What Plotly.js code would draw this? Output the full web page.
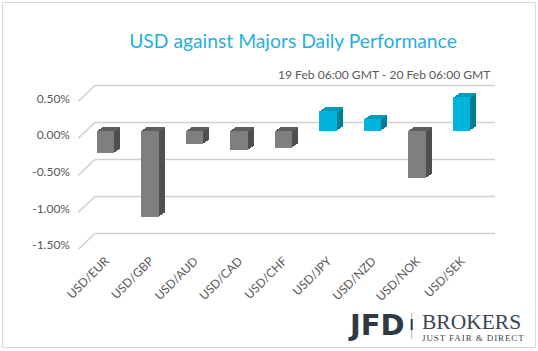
<!DOCTYPE html>
<html><head><meta charset="utf-8">
<script src="https://cdn.plot.ly/plotly-3.0.1.min.js"></script>
<style>html,body{margin:0;padding:0;background:#fff}#chart{width:538px;height:351px}</style>
</head><body><div id="chart"></div>
<script>
// ---- data ----
const categories = ["USD/EUR","USD/GBP","USD/AUD","USD/CAD","USD/CHF","USD/JPY","USD/NZD","USD/NOK","USD/SEK"];
const changes = [-0.30, -1.16, -0.18, -0.26, -0.23, 0.26, 0.16, -0.64, 0.45];
const yTickVals = [0.5, 0, -0.5, -1.0, -1.5];
const yTickText = ["0.50%","0.00%","-0.50%","-1.00%","-1.50%"];
const titleText = "USD against Majors Daily Performance";
const subtitleText = "19 Feb 06:00 GMT - 20 Feb 06:00 GMT";

// ---- geometry helpers ----
const W = 538, H = 351;
const xd = (a, b) => [a / W, b / W];
const yd = (top, bottom) => [(H - bottom) / H, (H - top) / H];
const FONT = "Lato, 'Open Sans', sans-serif";
const yRange = [-1.5, 0.5];
const xRange = [-0.5, categories.length - 0.5];
const xIdx = categories.map((c, i) => i);

const frontColor = changes.map(v => v >= 0 ? "#00b4dc" : "#7f7f7f");
const sideColor  = changes.map(v => v >= 0 ? "#007d93" : "#4f4f4f");
const topColor   = changes.map(v => v >= 0 ? "#0098bb" : "#5e5e5e");
const stripH = 0.022;
const stripBase = changes.map(v => Math.max(v, 0) - stripH);
const stripLen = changes.map(() => stripH);

const hidden = {showgrid:false, zeroline:false, showticklabels:false, showline:false, ticks:"", fixedrange:true};

const layout = {
  width: W, height: H,
  margin: {l:0, r:0, t:0, b:0},
  paper_bgcolor: "#ffffff",
  plot_bgcolor: "rgba(255,255,255,0)",
  showlegend: false,
  barmode: "overlay",
  bargap: 0,
  title: {text: titleText, x: 293/W, xanchor: "center", y: 1 - 41/H, yanchor: "middle",
          font: {family: FONT, size: 19.3, color: "#1fb1dc"}},
  annotations: [],
  shapes: []
};

const traces = [];

// back wall (xy): gridlines + perspective edges, drawn as line traces behind the bars
const wall = {l: 95, r: 495, t: 85.5, b: 233.5, edgeDx: 17, edgeDy: 16};
const pxPerY = (wall.b - wall.t) / (yRange[1] - yRange[0]);
const pxPerX = wall.r - wall.l;
layout.xaxis = Object.assign({}, hidden, {domain: xd(wall.l - wall.edgeDx, wall.r),
  range: [-wall.edgeDx / pxPerX, 1], type: "linear"});
layout.yaxis = Object.assign({}, hidden, {domain: yd(wall.t - 2, wall.b + wall.edgeDy),
  range: [yRange[0] - wall.edgeDy / pxPerY, yRange[1] + 2 / pxPerY]});
yTickVals.forEach(t => {
  traces.push({type: "scatter", mode: "lines", x: [-wall.edgeDx / pxPerX, 0, 1], y: [t - wall.edgeDy / pxPerY, t, t],
    xaxis: "x", yaxis: "y", line: {color: "#d0d0d0", width: 1.6}, hoverinfo: "skip"});
});

// depth layers (3D extrusion)
const layers = 6;
const frontBox = {l: 83.25, r: 483.75, t: 130.7 - 0.5*74, b: 130.7 + 1.5*74};
for (let n = 0; n < layers; n++) {
  const k = layers - n;           // deepest first
  const dx = k * 1.0, dy = k * 0.667;
  const id = n + 2;
  layout["xaxis" + id] = Object.assign({}, hidden, {domain: xd(frontBox.l + dx, frontBox.r + dx),
    range: xRange, anchor: "y" + id, type: "linear"});
  layout["yaxis" + id] = Object.assign({}, hidden, {domain: yd(frontBox.t - dy, frontBox.b - dy),
    range: yRange, anchor: "x" + id});
  traces.push({type: "bar", x: xIdx, y: changes, width: 0.4,
    xaxis: "x" + id, yaxis: "y" + id, marker: {color: sideColor, line: {width: 0}}, hoverinfo: "skip"});
  traces.push({type: "bar", x: xIdx, y: stripLen, base: stripBase, width: 0.4,
    xaxis: "x" + id, yaxis: "y" + id, marker: {color: topColor, line: {width: 0}}, hoverinfo: "skip"});
}

// front faces
const fid = layers + 2;
layout["xaxis" + fid] = Object.assign({}, hidden, {domain: xd(frontBox.l, frontBox.r), range: xRange,
  anchor: "y" + fid, type: "linear", showticklabels: true, tickvals: xIdx,
  ticktext: categories, tickangle: -45, ticklabelstandoff: 9,
  tickfont: {family: FONT, size: 12, color: "#595959"}});
layout["yaxis" + fid] = Object.assign({}, hidden, {domain: yd(frontBox.t, frontBox.b), range: yRange, anchor: "x" + fid});
traces.push({type: "bar", x: xIdx, y: changes, width: 0.4,
  xaxis: "x" + fid, yaxis: "y" + fid, marker: {color: frontColor, line: {width: 0}}, hoverinfo: "skip"});

// y tick label axis
const lid = fid + 1;
layout["yaxis" + lid] = Object.assign({}, hidden, {domain: yd(98.3, 245), range: yRange,
  anchor: "free", position: 70/W, showticklabels: true, tickvals: yTickVals, ticktext: yTickText,
  tickfont: {family: FONT, size: 12, color: "#595959"}});
traces.push({type: "scatter", mode: "markers", x: xIdx, y: changes,
  xaxis: "x" + fid, yaxis: "y" + lid, marker: {opacity: 0}, hoverinfo: "skip"});

// subtitle
layout.annotations.push({text: subtitleText, xref: "paper", yref: "paper", x: 492/W, y: 1 - 74/H,
  xanchor: "right", yanchor: "middle", showarrow: false, font: {family: FONT, size: 12.1, color: "#595959"}});

// logo
layout.annotations.push({text: "<b>JFD</b>", xref: "paper", yref: "paper", x: 346/W, y: 1 - 324.5/H,
  xanchor: "left", yanchor: "middle", showarrow: false,
  font: {family: "'DejaVu Sans', sans-serif", size: 29, color: "#2e3944"}});
layout.annotations.push({
  text: "<span style=\"font-size:21.5px\">BROKERS</span><br><span style=\"letter-spacing:0.9px\">JUST FAIR &amp; DIRECT</span>",
  xref: "paper", yref: "paper", x: 420/W, y: 1 - 326/H, align: "left",
  xanchor: "left", yanchor: "middle", showarrow: false,
  font: {family: "'Liberation Serif', serif", size: 9, color: "#3a4652"}});
layout.shapes.push({type: "line", xref: "paper", yref: "paper", x0: 411.7/W, x1: 411.7/W, y0: 1 - 313/H, y1: 1 - 339/H,
  line: {color: "#b0b4b8", width: 1}});
layout.shapes.push({type: "line", xref: "paper", yref: "paper", x0: 411.7/W, x1: 411.7/W, y0: 1 - 319/H, y1: 1 - 330/H,
  line: {color: "#2e3944", width: 2}});

// outer border
layout.shapes.push({type: "rect", xref: "paper", yref: "paper", x0: 2.5/W, x1: 535.5/W, y0: 1 - 347.5/H, y1: 1 - 2.5/H,
  line: {color: "#d9d9d9", width: 1}, fillcolor: "rgba(0,0,0,0)"});

Plotly.newPlot("chart", traces, layout, {displayModeBar: false, staticPlot: true});
</script></body></html>
